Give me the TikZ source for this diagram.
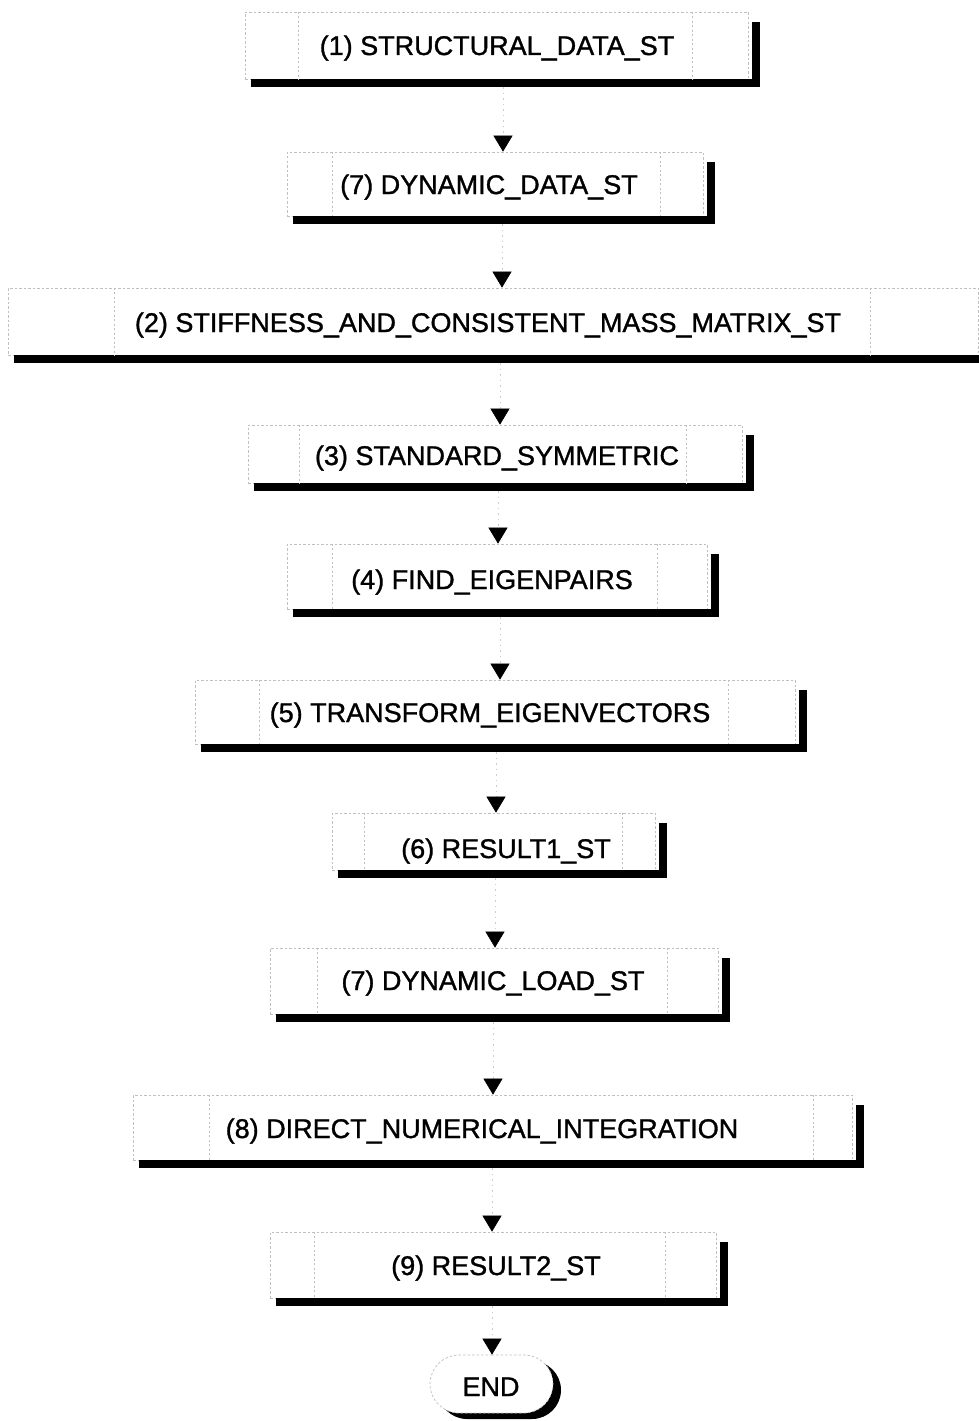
\documentclass[tikz,border=0pt]{standalone}
\usepackage{fontspec}
\setmainfont{Liberation Sans}
\newfontfamily\lblfont{Liberation Sans}[FakeBold=1.2]
\usetikzlibrary{arrows.meta,shapes.misc}
\newcommand\pshadow[1]{%
 \fill ([xshift=6pt]#1.south west) rectangle ([xshift=12pt,yshift=-8pt]#1.south east);
 \fill ([xshift=4pt,yshift=-10pt]#1.north east) rectangle ([xshift=12pt,yshift=-8pt]#1.south east);}
\newcommand\pinner[3]{%
 \draw[innerline] ([xshift=#2pt]#1.north west) -- ([xshift=#2pt]#1.south west);
 \draw[innerline] ([xshift=-#3pt]#1.north east) -- ([xshift=-#3pt]#1.south east);}
\begin{document}
\begin{tikzpicture}[x=1pt,y=-1pt,
  procbox/.style={rectangle, draw=gray!50, dash pattern=on 2.5pt off 2pt, line width=0.7pt, fill=white, inner sep=0pt},
  innerline/.style={draw=gray!50, dash pattern=on 2pt off 2.5pt, line width=0.6pt},
  conn/.style={draw=gray!40, dash pattern=on 1.5pt off 4pt, line width=0.6pt, -{Triangle[width=19pt,length=16pt,color=black]}},
  lbl/.style={anchor=base, font=\lblfont\fontsize{27}{30}\selectfont, inner sep=0pt},
  endbox/.style={rounded rectangle, draw=gray!50, dash pattern=on 2.5pt off 2pt, line width=0.7pt, fill=white, minimum width=123pt, minimum height=58pt, inner sep=0pt}]
\useasboundingbox[fill=white] (0,0) rectangle (979,1421);
% boxes
\node[procbox, minimum width=503pt, minimum height=67pt] (b1) at (496.5,45.5) {};
\node[procbox, minimum width=416pt, minimum height=64pt] (b2) at (495,184) {};
\node[procbox, minimum width=970pt, minimum height=67pt] (b3) at (493,321.5) {};
\node[procbox, minimum width=494pt, minimum height=58pt] (b4) at (495,454) {};
\node[procbox, minimum width=420pt, minimum height=65pt] (b5) at (497,576.5) {};
\node[procbox, minimum width=600pt, minimum height=64pt] (b6) at (495,712) {};
\node[procbox, minimum width=323pt, minimum height=57pt] (b7) at (493.5,841.5) {};
\node[procbox, minimum width=448pt, minimum height=66pt] (b8) at (494,981) {};
\node[procbox, minimum width=719pt, minimum height=65pt] (b9) at (492.5,1127.5) {};
\node[procbox, minimum width=446pt, minimum height=66pt] (b10) at (493,1265) {};
% END
\node[rounded rectangle, fill=black, minimum width=123pt, minimum height=58pt, inner sep=0pt] (es) at (499.5,1390) {};
\node[endbox] (e) at (491.5,1384) {};
% shadows and inner lines
\pshadow{b1}\pinner{b1}{54}{56}
\pshadow{b2}\pinner{b2}{46}{43}
\pshadow{b3}\pinner{b3}{107}{108}
\pshadow{b4}\pinner{b4}{52}{56}
\pshadow{b5}\pinner{b5}{46}{50}
\pshadow{b6}\pinner{b6}{65}{67}
\pshadow{b7}\pinner{b7}{33}{33}
\pshadow{b8}\pinner{b8}{48}{51}
\pshadow{b9}\pinner{b9}{77}{39}
\pshadow{b10}\pinner{b10}{45}{51}
% texts
\node[lbl] (t1) at (497,55) {(1) STRUCTURAL\_DATA\_ST};
\node[lbl] (t2) at (489,194) {(7) DYNAMIC\_DATA\_ST};
\node[lbl] (t3) at (488,332) {(2) STIFFNESS\_AND\_CONSISTENT\_MASS\_MATRIX\_ST};
\node[lbl] (t4) at (497,465) {(3) STANDARD\_SYMMETRIC};
\node[lbl] (t5) at (492,589) {(4) FIND\_EIGENPAIRS};
\node[lbl] (t6) at (490,722) {(5) TRANSFORM\_EIGENVECTORS};
\node[lbl] (t7) at (506,858) {(6) RESULT1\_ST};
\node[lbl] (t8) at (493,990) {(7) DYNAMIC\_LOAD\_ST};
\node[lbl] (t9) at (482,1138) {(8) DIRECT\_NUMERICAL\_INTEGRATION};
\node[lbl] (t10) at (496,1275) {(9) RESULT2\_ST};
\node[lbl] (tend) at (491,1396) {END};
% connector columns
\coordinate (a1) at (503,0);
\coordinate (a2) at (502,0);
\coordinate (a3) at (500,0);
\coordinate (a4) at (498,0);
\coordinate (a5) at (500,0);
\coordinate (a6) at (496,0);
\coordinate (a7) at (495,0);
\coordinate (a8) at (493,0);
\coordinate (a9) at (492,0);
\coordinate (a10) at (492,0);
\draw[conn] ([yshift=-8pt]b1.south -| a1) -- (b2.north -| a1);
\draw[conn] ([yshift=-8pt]b2.south -| a2) -- (b3.north -| a2);
\draw[conn] ([yshift=-8pt]b3.south -| a3) -- (b4.north -| a3);
\draw[conn] ([yshift=-8pt]b4.south -| a4) -- (b5.north -| a4);
\draw[conn] ([yshift=-8pt]b5.south -| a5) -- (b6.north -| a5);
\draw[conn] ([yshift=-8pt]b6.south -| a6) -- (b7.north -| a6);
\draw[conn] ([yshift=-8pt]b7.south -| a7) -- (b8.north -| a7);
\draw[conn] ([yshift=-8pt]b8.south -| a8) -- (b9.north -| a8);
\draw[conn] ([yshift=-8pt]b9.south -| a9) -- (b10.north -| a9);
\draw[conn] ([yshift=-8pt]b10.south -| a10) -- (e.north -| a10);
\end{tikzpicture}
\end{document}
